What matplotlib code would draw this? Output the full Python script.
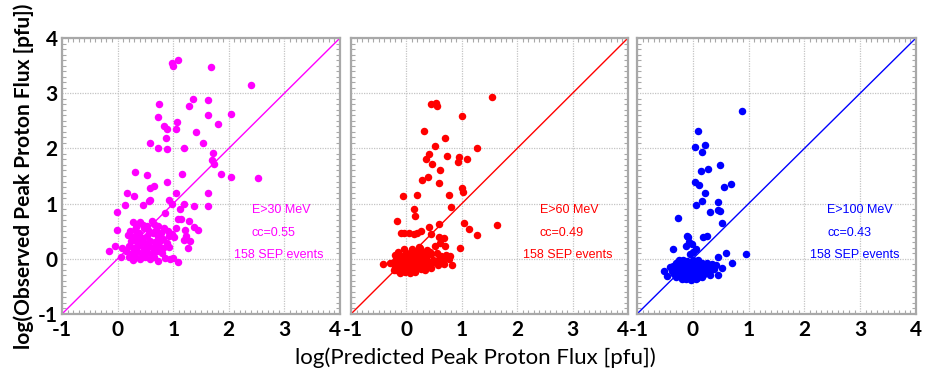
import matplotlib
matplotlib.use('Agg')
import matplotlib.pyplot as plt
from matplotlib.ticker import MultipleLocator
from matplotlib.transforms import ScaledTranslation

plt.rcParams['axes.unicode_minus'] = False

# log10 predicted vs observed peak proton flux, one list pair per energy channel
x30 = [1.09, 0.97, 0.99, 1.68, 2.40, 1.35, 1.62, 1.29, 0.75, 2.04, 1.62, 0.72, 1.80, 1.06, 0.84,
       0.89, 1.05, 1.41, 0.87, 1.54, 0.58, 0.73, 0.89, 1.19, 1.72, 1.69, 1.73, 1.86, 2.04, 2.52,
       0.31, 0.52, 1.16, 0.89, 0.17, 0.30, 0.59, 0.66, 1.05, 0.92, 0.98, 0.13, 0.46, 0.56, 0.58,
       1.20, 1.37, 1.63, 1.63, -0.01, 0.86, 1.13, 1.08, 1.14, 1.29, 1.05, 1.37, 1.44, -0.01, 1.23,
       1.31, 1.01, 1.26, -0.16, -0.04, 0.08, 0.07, 1.09, 0.94, 1.00, 1.22, 1.20, 0.73,
       0.28, 0.41, 0.46, 0.61, 0.66, 0.33, 0.52, 0.73, 0.84,
       0.22, 0.31, 0.38, 0.47, 0.56, 0.69, 0.78, 0.90, 0.97,
       0.18, 0.27, 0.35, 0.44, 0.53, 0.63, 0.72, 0.82, 0.93,
       0.24, 0.34, 0.41, 0.50, 0.59, 0.67, 0.77, 0.88,
       0.20, 0.30, 0.39, 0.47, 0.56, 0.64, 0.72, 0.81, 0.92,
       0.15, 0.26, 0.35, 0.44, 0.53, 0.61, 0.70, 0.79,
       0.20, 0.31, 0.40, 0.49, 0.58, 0.66, 0.85, 0.27]
y30 = [3.61, 3.54, 3.49, 3.48, 3.14, 2.89, 2.88, 2.77, 2.80, 2.63, 2.60, 2.57, 2.45, 2.48, 2.41,
       2.36, 2.35, 2.30, 2.19, 2.10, 2.10, 2.00, 1.99, 2.01, 1.91, 1.79, 1.72, 1.53, 1.48, 1.47,
       1.58, 1.51, 1.53, 1.39, 1.20, 1.13, 1.28, 1.31, 1.20, 1.07, 0.99, 0.98, 0.98, 1.04, 1.07,
       1.00, 0.95, 1.20, 0.96, 0.84, 0.83, 0.90, 0.73, 0.72, 0.69, 0.56, 0.57, 0.52, 0.52, 0.42,
       0.33, 0.40, 0.19, 0.14, 0.24, 0.19, 0.04, -0.06, 0.00, 0.01, 0.52, 0.34, -0.04,
       0.66, 0.67, 0.62, 0.68, 0.63, 0.58, 0.59, 0.60, 0.55,
       0.50, 0.53, 0.47, 0.55, 0.50, 0.52, 0.47, 0.50, 0.45,
       0.43, 0.40, 0.44, 0.38, 0.42, 0.46, 0.40, 0.36, 0.41,
       0.33, 0.30, 0.35, 0.28, 0.33, 0.30, 0.33, 0.28,
       0.24, 0.20, 0.25, 0.18, 0.23, 0.19, 0.25, 0.20, 0.22,
       0.15, 0.11, 0.15, 0.09, 0.13, 0.08, 0.14, 0.10,
       0.03, 0.05, 0.00, 0.04, -0.01, 0.03, 0.02, -0.02]

x60 = [1.55, 0.45, 0.54, 0.55, 1.00, 0.31, 0.70, 0.52, 1.28, 0.41, 0.74, 0.95, 0.94, 1.10, 0.36,
       0.46, 0.61, 0.39, 0.28, 0.58, 1.00, 1.03, 0.77, -0.07, 0.19, 0.80, 0.14, 0.16, -0.17, 0.59,
       1.04, 1.13, 1.64, 1.28, 0.40, -0.10, -0.04, 0.05, 0.14, 0.20, 0.27, 0.45, 0.96, 0.58, 0.67,
       0.69, 0.52, 0.61, 0.78, 0.83, 0.22, -0.42, -0.29, -0.23,
       -0.05, 0.10, 0.25, 0.38,
       -0.15, 0.00, 0.08, 0.20, 0.30, 0.42, 0.55,
       -0.20, -0.10, -0.02, 0.05, 0.12, 0.18, 0.26, 0.35, 0.45, 0.62, 0.72,
       -0.18, -0.08, 0.00, 0.06, 0.13, 0.20, 0.28, 0.36, 0.48, 0.58, 0.70, 0.77,
       -0.22, -0.12, -0.04, 0.03, 0.10, 0.17, 0.24, 0.32, 0.40, 0.52, 0.64,
       -0.15, -0.06, 0.02, 0.08, 0.15, 0.22, 0.30, 0.38, 0.47, 0.57, 0.68,
       -0.20, -0.10, -0.02, 0.05, 0.12, 0.20, 0.28, 0.36, 0.45,
       -0.18, -0.08, 0.00, 0.08, 0.16, 0.26, 0.34,
       -0.12, -0.02, 0.06, 0.15]
y60 = [2.94, 2.81, 2.82, 2.77, 2.59, 2.31, 2.18, 2.04, 2.01, 1.89, 1.86, 1.85, 1.76, 1.80, 1.80,
       1.72, 1.60, 1.48, 1.42, 1.38, 1.28, 1.21, 1.16, 1.14, 1.16, 0.94, 0.91, 0.77, 0.68, 0.63,
       0.65, 0.54, 0.62, 0.43, 0.57, 0.47, 0.47, 0.46, 0.45, 0.47, 0.50, 0.45, 0.19, 0.40, 0.37,
       0.23, 0.24, 0.29, 0.05, -0.12, 0.21, -0.10, -0.08, -0.21,
       0.18, 0.17, 0.19, 0.16,
       0.12, 0.11, 0.13, 0.12, 0.10, 0.13, 0.11,
       0.06, 0.05, 0.07, 0.06, 0.04, 0.07, 0.05, 0.06, 0.08, 0.05, 0.06,
       0.00, 0.01, -0.01, 0.00, 0.02, -0.01, 0.00, 0.01, -0.02, 0.00, 0.01, -0.01,
       -0.05, -0.04, -0.06, -0.05, -0.03, -0.06, -0.04, -0.05, -0.07, -0.04, -0.05,
       -0.10, -0.11, -0.09, -0.10, -0.12, -0.09, -0.11, -0.10, -0.08, -0.11, -0.10,
       -0.15, -0.14, -0.16, -0.15, -0.13, -0.16, -0.15, -0.14, -0.16,
       -0.20, -0.21, -0.19, -0.20, -0.22, -0.19, -0.21,
       -0.25, -0.24, -0.26, -0.24]

x100 = [0.89, 0.10, 0.04, 0.22, 0.17, 0.49, 0.15, 0.28, 0.04, 0.12, 0.56, 0.69, 0.22, 0.16, 0.05,
        0.46, 0.31, 0.45, 0.49, -0.27, 0.52, -0.09, 0.25, -0.10, -0.07, -0.02, 0.05, 0.19, -0.35,
        -0.05, 0.60, 0.96, 0.46, 0.70, 0.52, 0.46, -0.52, -0.40, -0.46, 0.01, -0.12,
        -0.25, -0.18, -0.10, 0.00, 0.10,
        -0.30, -0.22, -0.15, -0.08, 0.00, 0.08, 0.16, 0.25, 0.35,
        -0.35, -0.27, -0.20, -0.13, -0.06, 0.02, 0.10, 0.18, 0.26, 0.34, 0.42,
        -0.32, -0.25, -0.18, -0.11, -0.04, 0.04, 0.12, 0.20, 0.28, 0.38,
        -0.38, -0.28, -0.21, -0.14, -0.07, 0.00, 0.07, 0.14, 0.22, 0.30,
        -0.33, -0.25, -0.17, -0.10, -0.03, 0.05, 0.12, 0.20, 0.30,
        -0.30, -0.22, -0.15, -0.08, -0.01, 0.07, 0.16,
        -0.20, -0.12, -0.04, 0.05]
y100 = [2.68, 2.31, 2.02, 2.07, 1.93, 1.70, 1.59, 1.63, 1.40, 1.34, 1.30, 1.36, 1.19, 1.04, 0.97,
        1.02, 0.85, 0.88, 0.86, 0.74, 0.64, 0.39, 0.41, 0.42, 0.30, 0.27, 0.17, 0.39, 0.17,
        0.09, 0.11, 0.08, 0.03, -0.07, -0.16, -0.30, -0.22, -0.14, -0.32, 0.13, 0.23,
        -0.03, -0.02, -0.04, -0.03, -0.02,
        -0.08, -0.07, -0.09, -0.08, -0.07, -0.09, -0.08, -0.07, -0.09,
        -0.13, -0.12, -0.14, -0.13, -0.12, -0.14, -0.13, -0.12, -0.14, -0.13, -0.12,
        -0.18, -0.17, -0.19, -0.18, -0.17, -0.19, -0.18, -0.17, -0.19, -0.18,
        -0.23, -0.22, -0.24, -0.23, -0.22, -0.24, -0.23, -0.22, -0.24, -0.23,
        -0.28, -0.27, -0.29, -0.28, -0.27, -0.29, -0.28, -0.27, -0.29,
        -0.33, -0.32, -0.34, -0.33, -0.32, -0.34, -0.33,
        -0.37, -0.36, -0.38, -0.37]

energies = ['E>30 MeV', 'E>60 MeV', 'E>100 MeV']
ccs = ['cc=0.55', 'cc=0.49', 'cc=0.43']
n_events = '158 SEP events'
colors = ['#ff00ff', '#ff0000', '#0000ff']
series = [(x30, y30), (x60, y60), (x100, y100)]
ticks = [-1, 0, 1, 2, 3, 4]

fig = plt.figure(figsize=(9.26, 3.78), dpi=100)
lefts = [62, 351, 637]
widths = [278, 277, 279]
frame = '#a8a8a8'

for i, (xs, ys) in enumerate(series):
    ax = fig.add_axes([lefts[i] / 926, 1 - 314 / 378, widths[i] / 926, 276 / 378])
    ax.set_xlim(-1, 4)
    ax.set_ylim(-1, 4)
    ax.plot([-1, 4], [-1, 4], color=colors[i], lw=1.0, zorder=2)
    ax.plot(xs, ys, 'o', color=colors[i], ms=5.4, mec='none', zorder=3)

    ax.set_xticks(ticks)
    ax.set_yticks(ticks)
    ax.xaxis.set_minor_locator(MultipleLocator(0.1))
    ax.yaxis.set_minor_locator(MultipleLocator(0.1))
    ax.tick_params(which='both', direction='in', top=True, right=True, color=frame)
    ax.tick_params(which='major', length=0)
    ax.tick_params(which='minor', length=3, width=0.8)
    ax.grid(True, which='major', color='#c4c4c4', lw=0.9, ls=(0, (1, 1)))
    for s in ax.spines.values():
        s.set_color(frame)
        s.set_linewidth(1.6)

    ax.tick_params(axis='x', pad=4)
    xlabels = ax.get_xticklabels()
    for lab in xlabels:
        lab.set_fontfamily('Lato')
        lab.set_fontweight('bold')
        lab.set_fontsize(15)
    # the "4" of one panel sits right next to the "-1" of the next: nudge it left
    if i < 2:
        shift = ScaledTranslation(-5 / 100, 0, fig.dpi_scale_trans)
        xlabels[-1].set_transform(xlabels[-1].get_transform() + shift)
    if i > 0:
        shift = ScaledTranslation(2 / 100, 0, fig.dpi_scale_trans)
        xlabels[0].set_transform(xlabels[0].get_transform() + shift)

    if i == 0:
        for lab in ax.get_yticklabels():
            lab.set_fontfamily('Lato')
            lab.set_fontweight('bold')
            lab.set_fontsize(15)
        ax.tick_params(axis='y', pad=3)
    else:
        ax.set_yticklabels([])

    # channel, correlation and event count, left-aligned in the lower right
    for tx, ty, txt in [(2.41, 0.88, energies[i]), (2.41, 0.46, ccs[i]), (2.10, 0.07, n_events)]:
        ax.text(tx, ty, txt, color=colors[i], fontsize=9, family='Liberation Sans',
                ha='left', va='center')

    if i == 0:
        ax.set_ylabel('log(Observed Peak Proton Flux [pfu])', family='Lato',
                      fontweight='bold', fontsize=15, labelpad=3)

fig.text(475 / 926, 1 - 358 / 378, 'log(Predicted Peak Proton Flux [pfu])', family='Lato',
         fontsize=16, ha='center', va='center')

fig.savefig('out.png', dpi=100)
